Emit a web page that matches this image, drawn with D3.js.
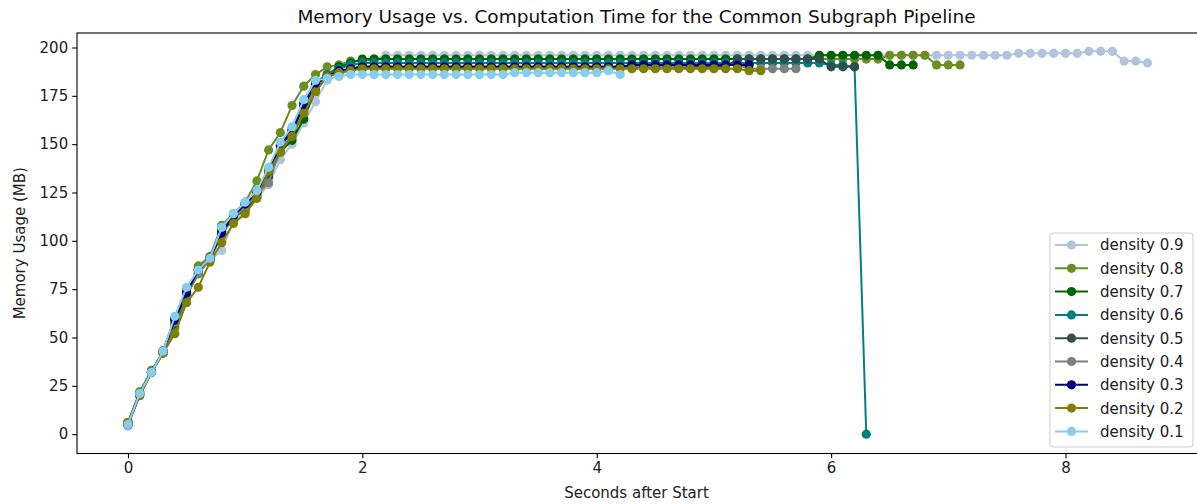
<!DOCTYPE html>
<html>
<head>
<meta charset="utf-8">
<script src="https://cdn.jsdelivr.net/npm/d3@7/dist/d3.min.js"></script>
<style>
  html, body { margin: 0; padding: 0; background: #fff; }
  svg { display: block; font-family: "DejaVu Sans", sans-serif; }
</style>
</head>
<body>
<svg id="chart" width="1197" height="504"></svg>
<script>
// Memory samples (MB), one every 0.1 s from the start of each run
const sampleStep = 0.1;

const density09 = [4, 20, 32, 42, 60, 72, 84, 90, 95, 110, 115, 122, 129, 142, 150, 161, 172, 183,
  186, 188, 191, 194,
  196, 196, 196, 196, 196, 196, 196, 196, 196, 196, 196, 196, 196, 196, 196, 196, 196, 196,
  196, 196, 196, 196, 196, 196, 196, 196, 196, 196, 196, 196, 196, 196, 196, 196, 196, 196,
  196, 196, 196, 196, 196, 196, 196, 196, 196, 196, 196, 196, 196, 196, 196, 196, 196, 196,
  197, 197, 197, 197, 197, 197, 198, 198, 198, 193, 193, 192];
const density08 = [6, 22, 33, 42, 55, 70, 87, 92, 108, 114, 120, 131, 147, 156, 170, 180, 186, 190,
  191, 193,
  193, 194, 194, 194, 194, 194, 194, 194, 194, 194, 194, 194, 194, 194, 194, 194, 194, 194,
  194, 194, 194, 194, 194, 194, 194, 194, 194, 194, 194, 194, 194, 194, 194, 194, 194, 194,
  194, 194, 194, 194, 194, 194, 194, 194, 194,
  196, 196, 196, 196, 191, 191, 191];
const density07 = [6, 21, 32, 42, 57, 72, 83, 91, 104, 112, 116, 123, 133, 146, 152, 163, 178, 186,
  190, 192,
  194, 194, 194, 194, 194, 194, 194, 194, 194, 194, 194, 194, 194, 194, 194, 194, 194, 194,
  194, 194, 194, 194, 194, 194, 194, 194, 194, 194, 194, 194, 194, 194, 194, 194, 194, 194,
  194, 194, 194,
  196, 196, 196, 196, 196, 196, 191, 191, 191];
const density06 = [6, 21, 32, 43, 60, 75, 85, 91, 106, 113, 119, 126, 137, 150, 158, 171, 182, 186,
  189, 191,
  192, 192, 192, 192, 192, 192, 192, 192, 192, 192, 192, 192, 192, 192, 192, 192, 192, 192,
  192, 192, 192, 192, 192, 192, 192, 192, 192, 192, 192, 192, 192, 192, 192, 192, 192, 192,
  192, 192, 192, 192,
  191, 191, 190, 0];
const density05 = [5, 21, 32, 43, 60, 74, 85, 91, 105, 113, 118, 125, 135, 149, 156, 170, 181, 185,
  187, 189,
  190, 190, 190, 190, 190, 190, 190, 190, 190, 190, 190, 190, 190, 190, 190, 190, 190, 190,
  190, 190, 190, 190, 190, 190, 190, 190, 190, 190, 190, 190, 190, 190,
  194, 194, 194, 194, 194, 194, 194, 194, 190, 190, 190];
const density04 = [5, 21, 32, 42, 58, 72, 83, 90, 103, 112, 117, 124, 130, 147, 155, 167, 180, 185,
  187, 189,
  190, 190, 190, 190, 190, 190, 190, 190, 190, 190, 190, 190, 190, 190, 190, 190, 190, 190,
  190, 190, 190, 190, 190, 190, 190, 190, 190, 190, 191, 191, 191, 191, 191,
  189, 189, 189, 189, 189];
const density03 = [5, 20, 32, 43, 59, 73, 85, 91, 104, 113, 119, 125, 136, 149, 157, 170, 181, 185,
  188, 189,
  190, 190, 190, 190, 190, 190, 190, 190, 190, 190, 190, 190, 190, 190, 190, 190, 190, 190,
  190, 190, 190, 190, 190,
  191, 191, 191, 191, 191, 191, 191, 191, 191, 191, 191];
const density02 = [6, 20, 32, 42, 52, 68, 76, 89, 99, 109, 114, 122, 136, 146, 154, 166, 177, 185,
  187, 188,
  189, 189, 189, 189, 189, 189, 189, 189, 189, 189, 189, 189, 189,
  189, 189, 189, 189, 189, 189, 189, 189, 189, 189, 189, 189, 189, 189, 189, 189, 189, 189, 189, 189,
  188, 188];
const density01 = [5, 21, 32, 43, 61, 76, 85, 91, 107, 114, 120, 126, 138, 151, 159, 173, 183, 184,
  185, 186, 186, 186, 186, 186, 186, 186, 186, 186, 186, 186, 186, 186, 186,
  187, 187, 187, 187, 187, 187, 187, 187, 188, 186];

const seriesLabels = ["density 0.9", "density 0.8", "density 0.7", "density 0.6", "density 0.5",
  "density 0.4", "density 0.3", "density 0.2", "density 0.1"];
const seriesValues = [density09, density08, density07, density06, density05,
  density04, density03, density02, density01];
const seriesColors = ["lightsteelblue", "olivedrab", "darkgreen", "teal", "darkslategray",
  "gray", "navy", "olive", "skyblue"];

const xTicks = [0, 2, 4, 6, 8];
const yTicks = [0, 25, 50, 75, 100, 125, 150, 175, 200];

const svg = d3.select("#chart");
const plot = { left: 77, right: 1198.5, top: 33, bottom: 453.5 };

const x = d3.scaleLinear().domain([-0.435, 9.135]).range([plot.left, plot.right]);
const y = d3.scaleLinear().domain([-10, 207.5]).range([plot.bottom, plot.top]);

const series = seriesLabels.map((label, i) => ({
  label,
  color: seriesColors[i],
  points: seriesValues[i].map((v, k) => ({ t: +(k * sampleStep).toFixed(1), v }))
}));

const g = svg.append("g");
g.append("defs").append("clipPath").attr("id", "plotClip")
  .append("rect").attr("x", plot.left).attr("y", plot.top)
  .attr("width", plot.right - plot.left).attr("height", plot.bottom - plot.top);

const marks = g.append("g").attr("clip-path", "url(#plotClip)");
const line = d3.line().x(d => x(d.t)).y(d => y(d.v));

series.forEach(s => {
  const sg = marks.append("g");
  sg.append("path").datum(s.points)
    .attr("d", line).attr("fill", "none")
    .attr("stroke", s.color).attr("stroke-width", 2);
  sg.selectAll("circle").data(s.points).join("circle")
    .attr("cx", d => x(d.t)).attr("cy", d => y(d.v))
    .attr("r", 4.6).attr("fill", s.color);
});

// Axes
const xAxis = d3.axisBottom(x).tickValues(xTicks).tickSize(4.8).tickPadding(4).tickFormat(d3.format("d"));
const yAxis = d3.axisLeft(y).tickValues(yTicks).tickSize(4.8).tickPadding(4).tickFormat(d3.format("d"));

const gx = g.append("g").attr("transform", `translate(0,${plot.bottom})`).call(xAxis);
const gy = g.append("g").attr("transform", `translate(${plot.left},0)`).call(yAxis);
[gx, gy].forEach(a => {
  a.select(".domain").remove();
  a.selectAll("line").attr("stroke", "#000").attr("stroke-width", 1.1);
  a.selectAll("text").attr("fill", "#222").attr("font-size", "15px")
    .attr("font-family", "DejaVu Sans");
});

// Frame
g.append("rect").attr("x", plot.left).attr("y", plot.top)
  .attr("width", plot.right - plot.left).attr("height", plot.bottom - plot.top)
  .attr("fill", "none").attr("stroke", "#000").attr("stroke-width", 1.1);

// Titles
g.append("text").attr("x", (plot.left + 1196) / 2).attr("y", 23)
  .attr("text-anchor", "middle").attr("font-size", "18.5px").attr("fill", "#111")
  .text("Memory Usage vs. Computation Time for the Common Subgraph Pipeline");
g.append("text").attr("x", (plot.left + 1196) / 2).attr("y", 498)
  .attr("text-anchor", "middle").attr("font-size", "15px").attr("fill", "#222")
  .text("Seconds after Start");
g.append("text").attr("transform", `translate(25,${(plot.top + plot.bottom) / 2}) rotate(-90)`)
  .attr("text-anchor", "middle").attr("font-size", "15px").attr("fill", "#222")
  .text("Memory Usage (MB)");

// Legend
const lg = g.append("g").attr("transform", "translate(1050,233)");
lg.append("rect").attr("x", 0).attr("y", 0).attr("width", 143).attr("height", 214)
  .attr("rx", 3).attr("fill", "#fff").attr("fill-opacity", 0.8)
  .attr("stroke", "#ccc").attr("stroke-width", 1);
series.forEach((s, i) => {
  const ey = 12 + i * 23.3;
  lg.append("line").attr("x1", 5).attr("x2", 38).attr("y1", ey).attr("y2", ey)
    .attr("stroke", s.color).attr("stroke-width", 2);
  lg.append("circle").attr("cx", 21.5).attr("cy", ey).attr("r", 4.6).attr("fill", s.color);
  lg.append("text").attr("x", 50).attr("y", ey).attr("dy", "0.36em")
    .attr("font-size", "15px").attr("fill", "#222").text(s.label);
});
</script>
</body>
</html>
